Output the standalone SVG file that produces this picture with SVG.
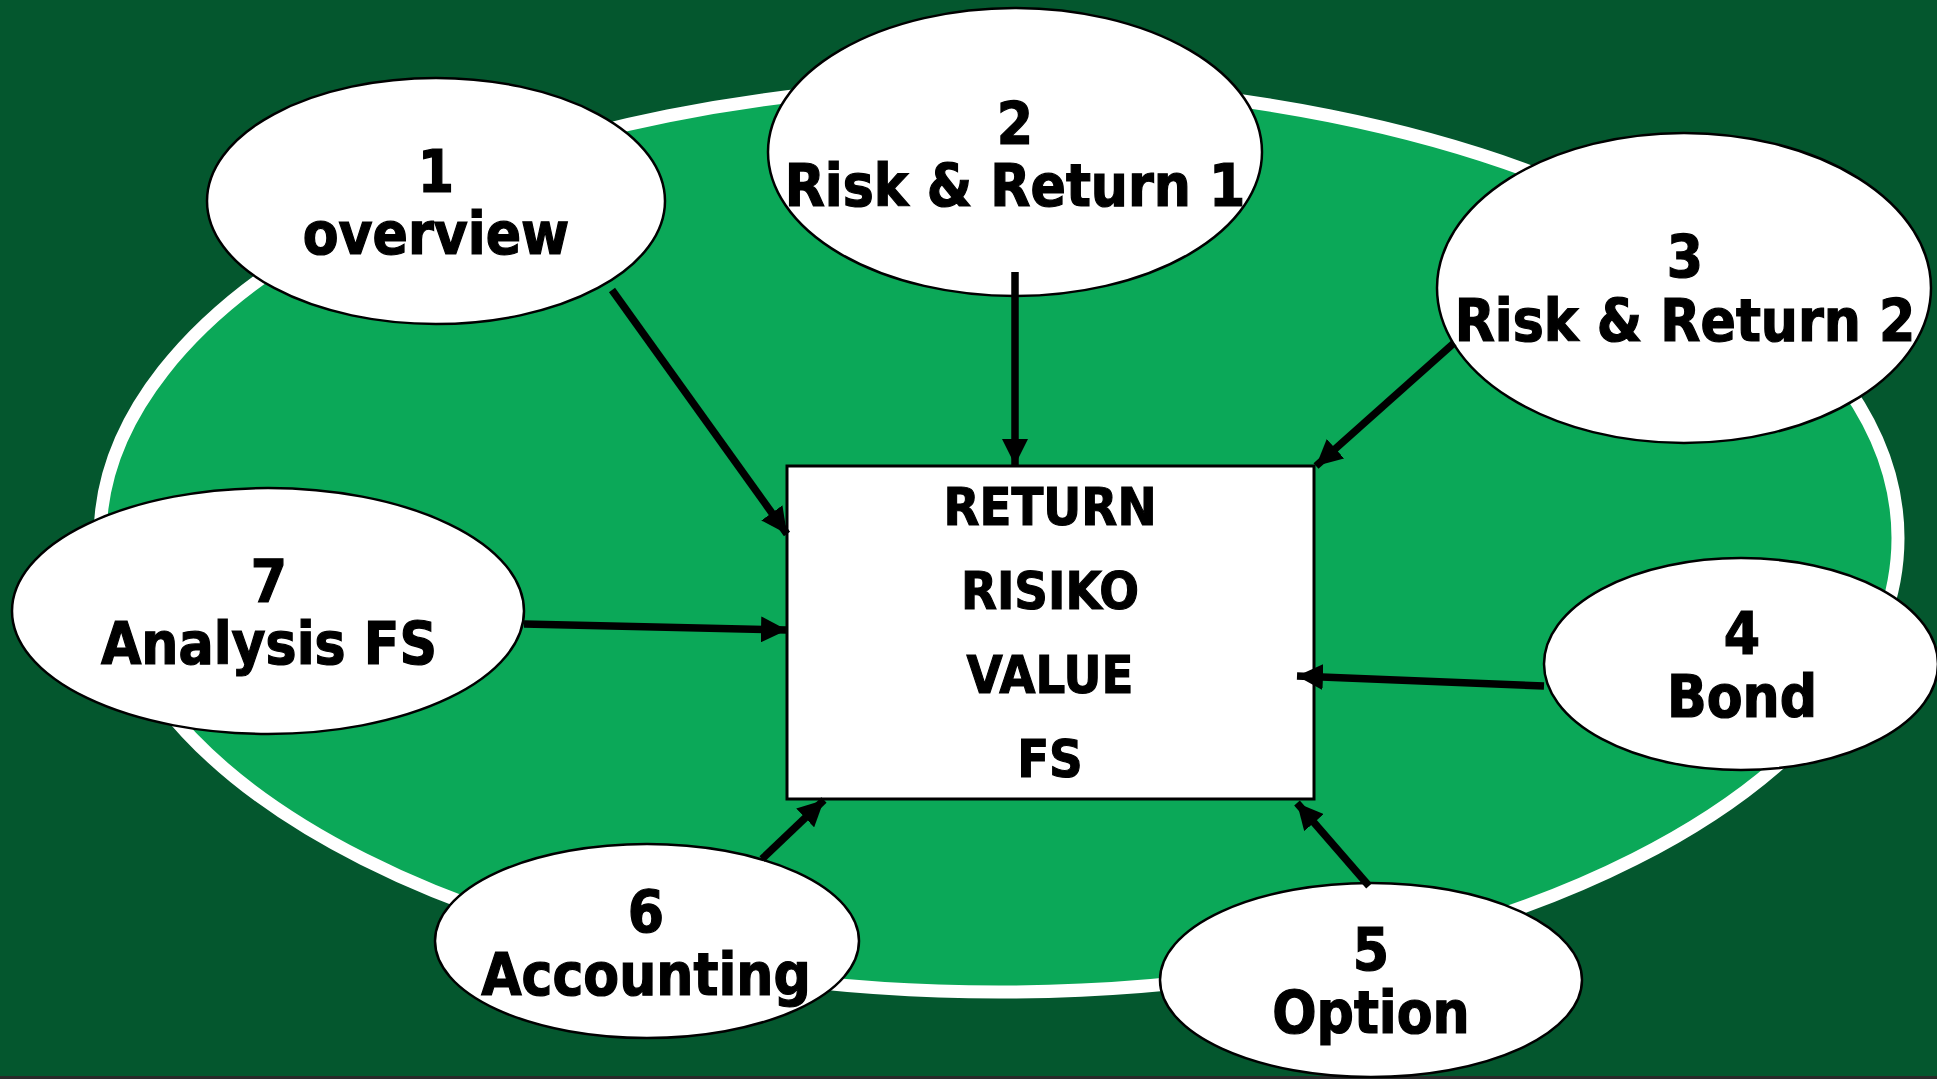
<svg xmlns="http://www.w3.org/2000/svg" width="1937" height="1079" viewBox="0 0 1937 1079">
<defs>
<style>
.node ellipse{fill:#ffffff;stroke:#000000;stroke-width:2.5}
.lbl{font-family:"DejaVu Sans Condensed","DejaVu Sans",sans-serif;font-weight:bold;font-size:58px;fill:#000000;stroke:#000000;stroke-width:1.2;text-anchor:middle}
.box{font-family:"DejaVu Sans Condensed","DejaVu Sans",sans-serif;font-weight:bold;font-size:52px;fill:#000000;stroke:#000000;stroke-width:1.1;text-anchor:middle}
.conn line{stroke:#000000;stroke-width:7.5;marker-end:url(#ah)}
</style>
<marker id="ah" markerUnits="userSpaceOnUse" markerWidth="28" markerHeight="26" refX="26" refY="13" orient="auto">
<path d="M0,0 L26,13 L0,26 Z" fill="#000000"/>
</marker>
</defs>
<rect x="0" y="0" width="1937" height="1079" fill="#04572e"/>
<rect x="0" y="1076" width="1937" height="3" fill="#2a2a2a"/>
<ellipse cx="999" cy="538" rx="899" ry="454" fill="#0ba858" stroke="#ffffff" stroke-width="13"/>
<g id="center" class="node">
<rect x="787" y="466" width="527" height="333" fill="#ffffff" stroke="#000000" stroke-width="3"/>
<text class="box" x="1050" y="525">RETURN</text>
<text class="box" x="1050" y="609">RISIKO</text>
<text class="box" x="1050" y="693">VALUE</text>
<text class="box" x="1050" y="777">FS</text>
</g>
<g id="n1" class="node">
<ellipse cx="436" cy="201" rx="229" ry="123"/>
<text class="lbl" x="436" y="192">1</text>
<text class="lbl" x="436" y="254">overview</text>
</g>
<g id="n2" class="node">
<ellipse cx="1015" cy="152" rx="247" ry="144"/>
<text class="lbl" x="1015" y="144">2</text>
<text class="lbl" x="1015" y="206">Risk &amp; Return 1</text>
</g>
<g id="n3" class="node">
<ellipse cx="1684" cy="288" rx="247" ry="155"/>
<text class="lbl" x="1685" y="277">3</text>
<text class="lbl" x="1685" y="341">Risk &amp; Return 2</text>
</g>
<g id="n4" class="node">
<ellipse cx="1741" cy="664" rx="197" ry="106"/>
<text class="lbl" x="1742" y="654">4</text>
<text class="lbl" x="1742" y="717">Bond</text>
</g>
<g id="n5" class="node">
<ellipse cx="1371" cy="980" rx="211" ry="97"/>
<text class="lbl" x="1371" y="970">5</text>
<text class="lbl" x="1371" y="1033">Option</text>
</g>
<g id="n6" class="node">
<ellipse cx="647" cy="941" rx="212" ry="97"/>
<text class="lbl" x="646" y="932">6</text>
<text class="lbl" x="646" y="995">Accounting</text>
</g>
<g id="n7" class="node">
<ellipse cx="268" cy="611" rx="256" ry="123"/>
<text class="lbl" x="269" y="602">7</text>
<text class="lbl" x="269" y="664">Analysis FS</text>
</g>
<g id="connectors" class="conn">
<line x1="612" y1="290" x2="787" y2="534"/>
<line x1="1015" y1="272" x2="1015" y2="465"/>
<line x1="1454" y1="343" x2="1316" y2="466"/>
<line x1="524" y1="624" x2="787" y2="630"/>
<line x1="1544" y1="686" x2="1297" y2="676"/>
<line x1="1369" y1="886" x2="1297" y2="803"/>
<line x1="762" y1="859" x2="824" y2="800"/>
</g>
</svg>
